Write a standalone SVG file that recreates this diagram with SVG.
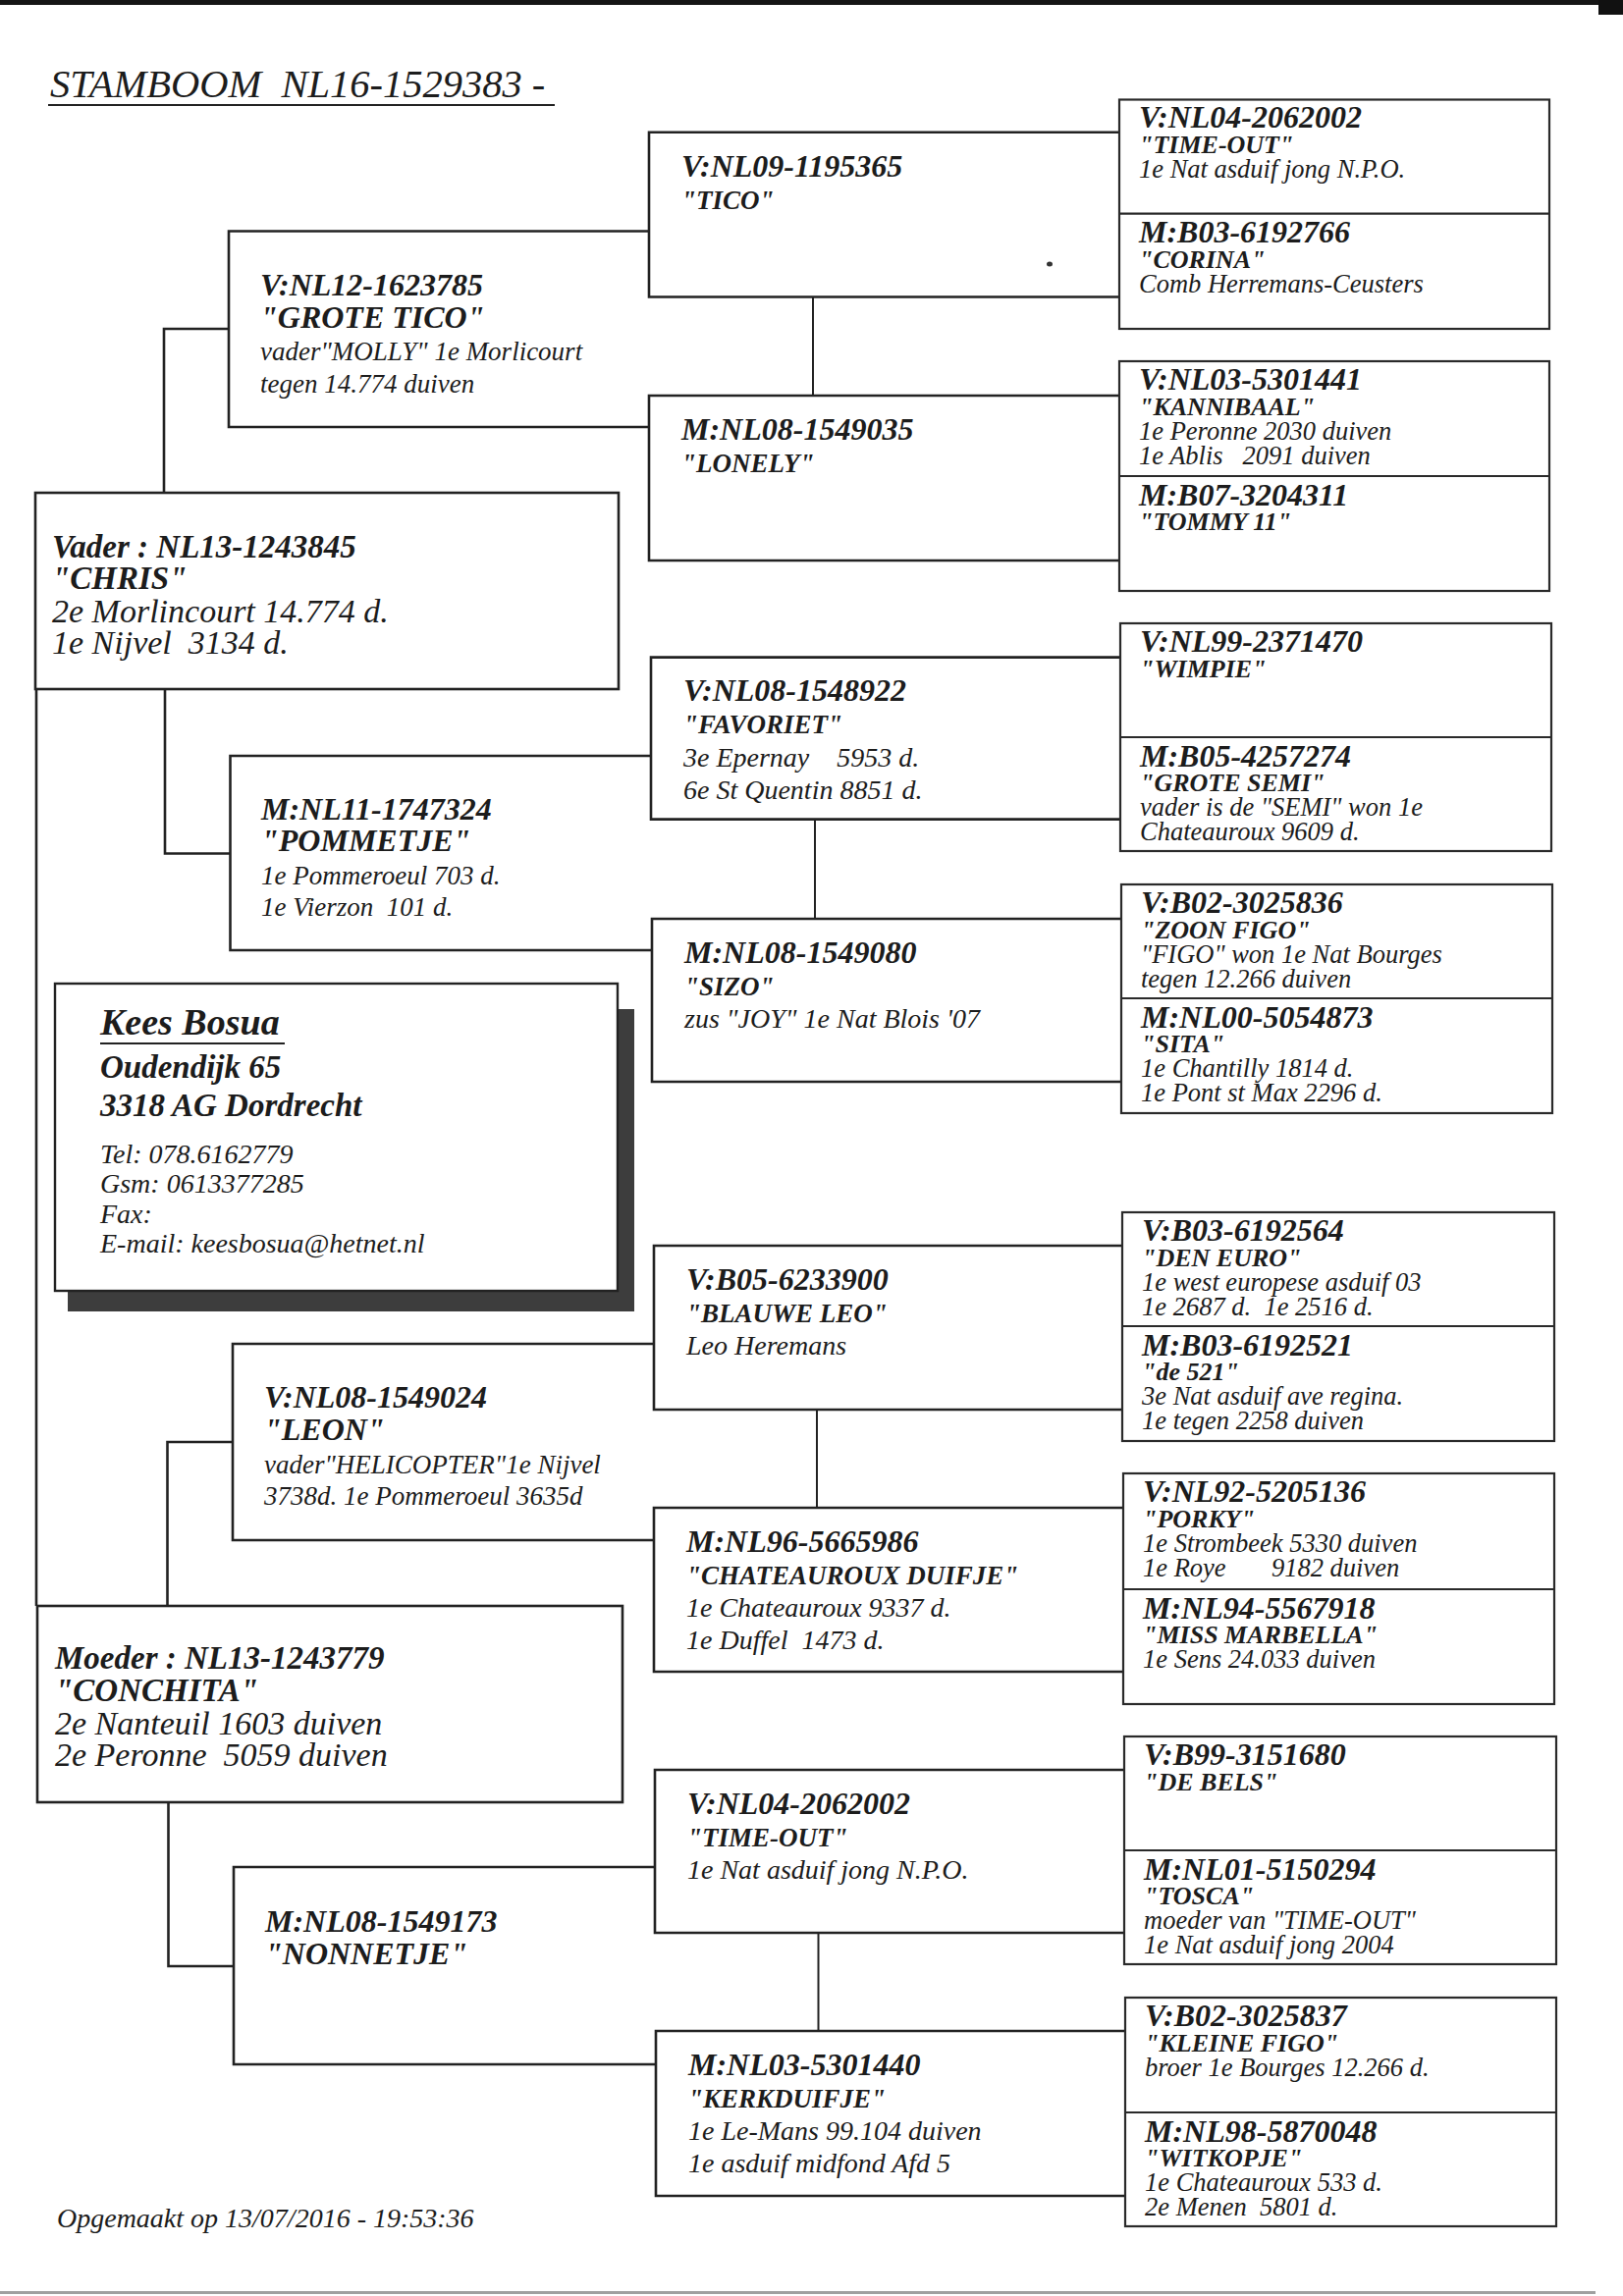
<svg xmlns="http://www.w3.org/2000/svg" width="1653" height="2339" viewBox="0 0 1653 2339">
<style>
text{font-family:"Liberation Serif","Times New Roman",serif;font-style:italic;fill:#1c1c1c;white-space:pre}
.b{font-weight:bold}
.box{fill:none;stroke:#222;stroke-width:2.6}
.g4{fill:none;stroke:#2a2a2a;stroke-width:2.2}
.ln{fill:none;stroke:#222;stroke-width:2.6}
.cn{fill:none;stroke:#222;stroke-width:2}
.g1i{font-size:33px}
.g1d{font-size:34px}
.g2i{font-size:32px}
.g2d{font-size:27px}
.g3i{font-size:32px}
.g3n{font-size:27px}
.g3d{font-size:28px}
.g4i{font-size:32px}
.g4n{font-size:26px}
.g4d{font-size:26.5px}
</style>
<rect width="1653" height="2339" fill="#fff"/>
<!-- scan edges -->
<rect x="0" y="0" width="1653" height="5" fill="#151515"/>
<rect x="1628" y="0" width="25" height="15" fill="#111"/>
<rect x="0" y="2334" width="1625" height="3" fill="#a0a0a0"/>
<ellipse cx="1069" cy="269" rx="3" ry="2.5" fill="#333"/>

<!-- title -->
<g id="title">
<text x="51" y="99" style="font-size:40.5px">STAMBOOM  NL16-1529383 -</text>
<line x1="49" y1="107" x2="565" y2="107" stroke="#222" stroke-width="2"/>
</g>

<!-- connectors -->
<g id="connectors">
<path class="ln" d="M167 502 V335 H233"/>
<path class="ln" d="M168 702 V869.5 H234.5"/>
<path class="ln" d="M37 702 V1636"/>
<path class="ln" d="M170.5 1636 V1469 H237"/>
<path class="ln" d="M171.5 1836 V2003 H238"/>
<path class="cn" d="M828 302.5 V403"/>
<path class="cn" d="M830 834.6 V936"/>
<path class="cn" d="M832 1436 V1536"/>
<path class="cn" d="M833.5 1969 V2069"/>
</g>

<!-- generation 1 -->
<g id="vader">
<rect class="box" x="36" y="502" width="594" height="200"/>
<text class="b g1i" x="53" y="568">Vader : NL13-1243845</text>
<text class="b g1i" x="53" y="600">"CHRIS"</text>
<text class="g1d" x="53" y="634">2e Morlincourt 14.774 d.</text>
<text class="g1d" x="53" y="666">1e Nijvel  3134 d.</text>
</g>
<g id="moeder">
<rect class="box" x="38" y="1636" width="596" height="200"/>
<text class="b g1i" x="56" y="1700">Moeder : NL13-1243779</text>
<text class="b g1i" x="56" y="1733">"CONCHITA"</text>
<text class="g1d" x="56" y="1767">2e Nanteuil 1603 duiven</text>
<text class="g1d" x="56" y="1799">2e Peronne  5059 duiven</text>
</g>

<!-- address -->
<g id="adres">
<rect x="69" y="1028" width="577" height="308" fill="#3d3d3d"/>
<rect x="56" y="1002" width="573" height="313" fill="#fff" stroke="#222" stroke-width="2.4"/>
<text class="b" x="102" y="1054" style="font-size:38px">Kees Bosua</text>
<line x1="102" y1="1063" x2="290" y2="1063" stroke="#222" stroke-width="2"/>
<text class="b" x="102" y="1098" style="font-size:33px">Oudendijk 65</text>
<text class="b" x="102" y="1137" style="font-size:33px">3318 AG Dordrecht</text>
<text x="102" y="1185" style="font-size:28px">Tel: 078.6162779</text>
<text x="102" y="1215" style="font-size:28px">Gsm: 0613377285</text>
<text x="102" y="1246" style="font-size:28px">Fax:</text>
<text x="102" y="1276" style="font-size:28px">E-mail: keesbosua@hetnet.nl</text>
</g>

<!-- generation 2 -->
<g id="grote-tico">
<path class="box" d="M661 235.5 H233 V435 H661"/>
<text class="b g2i" x="265" y="300.5">V:NL12-1623785</text>
<text class="b g2i" x="265" y="333.5">"GROTE TICO"</text>
<text class="g2d" x="265" y="367">vader"MOLLY" 1e Morlicourt</text>
<text class="g2d" x="265" y="399.5">tegen 14.774 duiven</text>
</g>
<g id="pommetje">
<path class="box" d="M663 770 H234.5 V968 H664"/>
<text class="b g2i" x="266" y="835">M:NL11-1747324</text>
<text class="b g2i" x="266" y="867">"POMMETJE"</text>
<text class="g2d" x="266" y="900.5">1e Pommeroeul 703 d.</text>
<text class="g2d" x="266" y="933">1e Vierzon  101 d.</text>
</g>
<g id="leon">
<path class="box" d="M666 1369 H237 V1569 H666"/>
<text class="b g2i" x="269" y="1434">V:NL08-1549024</text>
<text class="b g2i" x="269" y="1467">"LEON"</text>
<text class="g2d" x="269" y="1500.5">vader"HELICOPTER"1e Nijvel</text>
<text class="g2d" x="269" y="1533">3738d. 1e Pommeroeul 3635d</text>
</g>
<g id="nonnetje">
<path class="box" d="M667 1902 H238 V2103 H668"/>
<text class="b g2i" x="270" y="1967.5">M:NL08-1549173</text>
<text class="b g2i" x="270" y="2000.5">"NONNETJE"</text>
</g>

<!-- generation 3 -->
<g id="tico">
<path class="box" d="M1140 134.7 H661 V302.5 H1140"/>
<text class="b g3i" x="694" y="179.5">V:NL09-1195365</text>
<text class="b g3n" x="694" y="212.5">"TICO"</text>
</g>
<g id="lonely">
<path class="box" d="M1140 403 H661 V571 H1140"/>
<text class="b g3i" x="694" y="447.5">M:NL08-1549035</text>
<text class="b g3n" x="694" y="480.5">"LONELY"</text>
</g>
<g id="favoriet">
<path class="box" d="M1141 669.6 H663 V834.6 H1141"/>
<text class="b g3i" x="696" y="714">V:NL08-1548922</text>
<text class="b g3n" x="696" y="747">"FAVORIET"</text>
<text class="g3d" x="696" y="781">3e Epernay    5953 d.</text>
<text class="g3d" x="696" y="813.5">6e St Quentin 8851 d.</text>
</g>
<g id="sizo">
<path class="box" d="M1142 936 H664 V1102 H1142"/>
<text class="b g3i" x="697" y="980.5">M:NL08-1549080</text>
<text class="b g3n" x="697" y="1013.5">"SIZO"</text>
<text class="g3d" x="697" y="1047">zus "JOY" 1e Nat Blois '07</text>
</g>
<g id="blauwe-leo">
<path class="box" d="M1143 1269 H666 V1436 H1143"/>
<text class="b g3i" x="699" y="1313.5">V:B05-6233900</text>
<text class="b g3n" x="699" y="1346.5">"BLAUWE LEO"</text>
<text class="g3d" x="699" y="1380">Leo Heremans</text>
</g>
<g id="chateauroux-duifje">
<path class="box" d="M1144 1536 H666 V1703 H1144"/>
<text class="b g3i" x="699" y="1580.5">M:NL96-5665986</text>
<text class="b g3n" x="699" y="1613.5">"CHATEAUROUX DUIFJE"</text>
<text class="g3d" x="699" y="1647">1e Chateauroux 9337 d.</text>
<text class="g3d" x="699" y="1680">1e Duffel  1473 d.</text>
</g>
<g id="time-out">
<path class="box" d="M1145 1803 H667 V1969 H1145"/>
<text class="b g3i" x="700" y="1847.5">V:NL04-2062002</text>
<text class="b g3n" x="700" y="1880.5">"TIME-OUT"</text>
<text class="g3d" x="700" y="1914">1e Nat asduif jong N.P.O.</text>
</g>
<g id="kerkduifje">
<path class="box" d="M1146 2069 H668 V2237 H1146"/>
<text class="b g3i" x="701" y="2113.5">M:NL03-5301440</text>
<text class="b g3n" x="701" y="2146.5">"KERKDUIFJE"</text>
<text class="g3d" x="701" y="2180">1e Le-Mans 99.104 duiven</text>
<text class="g3d" x="701" y="2213">1e asduif midfond Afd 5</text>
</g>

<!-- generation 4 -->
<g id="g4-1">
<rect class="g4" x="1140" y="101.5" width="438" height="233.5"/>
<line class="g4" x1="1140" y1="217.7" x2="1578" y2="217.7"/>
<text class="b g4i" x="1160" y="130">V:NL04-2062002</text>
<text class="b g4n" x="1160" y="156">"TIME-OUT"</text>
<text class="g4d" x="1160" y="181">1e Nat asduif jong N.P.O.</text>
<text class="b g4i" x="1160" y="247">M:B03-6192766</text>
<text class="b g4n" x="1160" y="272.5">"CORINA"</text>
<text class="g4d" x="1160" y="297.5">Comb Herremans-Ceusters</text>
</g>
<g id="g4-2">
<rect class="g4" x="1140" y="368" width="438" height="234"/>
<line class="g4" x1="1140" y1="485" x2="1578" y2="485"/>
<text class="b g4i" x="1160" y="396.5">V:NL03-5301441</text>
<text class="b g4n" x="1160" y="422.5">"KANNIBAAL"</text>
<text class="g4d" x="1160" y="448">1e Peronne 2030 duiven</text>
<text class="g4d" x="1160" y="472.5">1e Ablis   2091 duiven</text>
<text class="b g4i" x="1160" y="514.5">M:B07-3204311</text>
<text class="b g4n" x="1160" y="540">"TOMMY 11"</text>
</g>
<g id="g4-3">
<rect class="g4" x="1141" y="635" width="439" height="232"/>
<line class="g4" x1="1141" y1="751" x2="1580" y2="751"/>
<text class="b g4i" x="1161" y="663.5">V:NL99-2371470</text>
<text class="b g4n" x="1161" y="689.5">"WIMPIE"</text>
<text class="b g4i" x="1161" y="780.5">M:B05-4257274</text>
<text class="b g4n" x="1161" y="806">"GROTE SEMI"</text>
<text class="g4d" x="1161" y="831">vader is de "SEMI" won 1e</text>
<text class="g4d" x="1161" y="855.5">Chateauroux 9609 d.</text>
</g>
<g id="g4-4">
<rect class="g4" x="1142" y="901" width="439" height="233"/>
<line class="g4" x1="1142" y1="1017" x2="1581" y2="1017"/>
<text class="b g4i" x="1162" y="929.5">V:B02-3025836</text>
<text class="b g4n" x="1162" y="955.5">"ZOON FIGO"</text>
<text class="g4d" x="1162" y="981">"FIGO" won 1e Nat Bourges</text>
<text class="g4d" x="1162" y="1005.5">tegen 12.266 duiven</text>
<text class="b g4i" x="1162" y="1046.5">M:NL00-5054873</text>
<text class="b g4n" x="1162" y="1072">"SITA"</text>
<text class="g4d" x="1162" y="1097">1e Chantilly 1814 d.</text>
<text class="g4d" x="1162" y="1121.5">1e Pont st Max 2296 d.</text>
</g>
<g id="g4-5">
<rect class="g4" x="1143" y="1235" width="440" height="233"/>
<line class="g4" x1="1143" y1="1351" x2="1583" y2="1351"/>
<text class="b g4i" x="1163" y="1263.5">V:B03-6192564</text>
<text class="b g4n" x="1163" y="1289.5">"DEN EURO"</text>
<text class="g4d" x="1163" y="1315">1e west europese asduif 03</text>
<text class="g4d" x="1163" y="1339.5">1e 2687 d.  1e 2516 d.</text>
<text class="b g4i" x="1163" y="1380.5">M:B03-6192521</text>
<text class="b g4n" x="1163" y="1406">"de 521"</text>
<text class="g4d" x="1163" y="1431">3e Nat asduif ave regina.</text>
<text class="g4d" x="1163" y="1455.5">1e tegen 2258 duiven</text>
</g>
<g id="g4-6">
<rect class="g4" x="1144" y="1501" width="439" height="235"/>
<line class="g4" x1="1144" y1="1619" x2="1583" y2="1619"/>
<text class="b g4i" x="1164" y="1529.5">V:NL92-5205136</text>
<text class="b g4n" x="1164" y="1555.5">"PORKY"</text>
<text class="g4d" x="1164" y="1581">1e Strombeek 5330 duiven</text>
<text class="g4d" x="1164" y="1605.5">1e Roye       9182 duiven</text>
<text class="b g4i" x="1164" y="1648.5">M:NL94-5567918</text>
<text class="b g4n" x="1164" y="1674">"MISS MARBELLA"</text>
<text class="g4d" x="1164" y="1699">1e Sens 24.033 duiven</text>
</g>
<g id="g4-7">
<rect class="g4" x="1145" y="1769" width="440" height="232"/>
<line class="g4" x1="1145" y1="1885" x2="1585" y2="1885"/>
<text class="b g4i" x="1165" y="1797.5">V:B99-3151680</text>
<text class="b g4n" x="1165" y="1823.5">"DE BELS"</text>
<text class="b g4i" x="1165" y="1914.5">M:NL01-5150294</text>
<text class="b g4n" x="1165" y="1940">"TOSCA"</text>
<text class="g4d" x="1165" y="1965">moeder van "TIME-OUT"</text>
<text class="g4d" x="1165" y="1989.5">1e Nat asduif jong 2004</text>
</g>
<g id="g4-8">
<rect class="g4" x="1146" y="2035" width="439" height="233"/>
<line class="g4" x1="1146" y1="2152" x2="1585" y2="2152"/>
<text class="b g4i" x="1166" y="2063.5">V:B02-3025837</text>
<text class="b g4n" x="1166" y="2089.5">"KLEINE FIGO"</text>
<text class="g4d" x="1166" y="2115">broer 1e Bourges 12.266 d.</text>
<text class="b g4i" x="1166" y="2181.5">M:NL98-5870048</text>
<text class="b g4n" x="1166" y="2207">"WITKOPJE"</text>
<text class="g4d" x="1166" y="2232">1e Chateauroux 533 d.</text>
<text class="g4d" x="1166" y="2256.5">2e Menen  5801 d.</text>
</g>

<!-- footer -->
<g id="footer">
<text x="58" y="2269" style="font-size:28px">Opgemaakt op 13/07/2016 - 19:53:36</text>
</g>
</svg>
